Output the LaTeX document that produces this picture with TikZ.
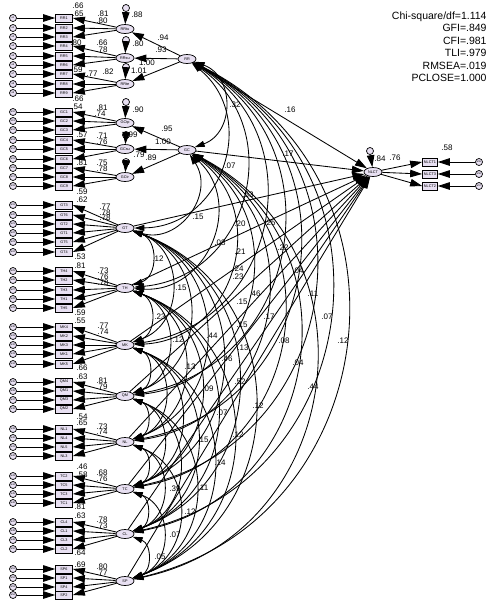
\documentclass[tikz,border=0pt]{standalone}
\usepackage{fontspec}
\setmainfont{Liberation Sans}
\usetikzlibrary{arrows.meta,shapes.geometric}
\definecolor{lav}{RGB}{232,224,242}
\begin{document}
\begin{tikzpicture}[x=1pt,y=1pt,line width=0.85pt,
  obs/.style={draw,fill=lav,line width=0.7pt,minimum width=17pt,minimum height=8pt,inner sep=0pt,font=\fontsize{3.8}{4}\selectfont},
  lat/.style={draw,fill=lav,line width=0.7pt,ellipse,minimum width=18pt,minimum height=9pt,inner sep=0pt,font=\fontsize{3.8}{4}\selectfont},
  err/.style={draw,fill=lav,line width=0.7pt,circle,minimum size=7pt,inner sep=0pt,font=\fontsize{2.5}{3}\selectfont},
  arr/.style={-{Triangle[length=12pt,width=7.5pt]}},
  cov/.style={{Triangle[length=10pt,width=6pt]}-{Triangle[length=10pt,width=6pt]}},
  num/.style={font=\fontsize{8}{9}\selectfont,inner sep=0pt},
]
\useasboundingbox (0,-600) rectangle (486,0);

% latent variables
\node[lat] (RR) at (187,-59) {RR};
\node[lat] (GC) at (187,-150) {GC};
\node[lat] (RRa) at (125,-29) {RRtu};
\node[lat] (RRb) at (125,-58) {RRsu};
\node[lat] (RRc) at (125,-84) {RRte};
\node[lat] (GCa) at (125,-123) {GCtp};
\node[lat] (GCb) at (125,-149) {GCsu};
\node[lat] (GCc) at (125,-177) {GCtr};
\node[lat] (GT) at (125,-228) {GT};
\node[lat] (TH) at (125,-288) {TH};
\node[lat] (MK) at (125,-345) {MK};
\node[lat] (QM) at (125,-396) {QM};
\node[lat] (NL) at (125,-442) {NL};
\node[lat] (TC) at (125,-489) {TC};
\node[lat] (CL) at (125,-534) {CL};
\node[lat] (SP) at (125,-581) {SP};
\node[lat] (NLCT) at (373,-172) {NLCT};

% covariances
\foreach \a [count=\i] in {RR,GC,GT,TH,MK,QM,NL,TC,CL,SP}{
  \foreach \b [count=\j] in {RR,GC,GT,TH,MK,QM,NL,TC,CL,SP}{
    \ifnum\j>\i \draw[cov] (\a) to[bend left=70,looseness=1.28] (\b); \fi
  }
}
% paths to NLCT
\foreach \a in {RR,GC,GT,TH,MK,QM,NL,TC,CL,SP}{\draw[arr] (\a) -- (NLCT);}

% second order
\foreach \s/\f in {RR/RRa,RR/RRb,RR/RRc,GC/GCa,GC/GCb,GC/GCc}{\draw[arr] (\s) -- (\f);}

% residuals of first-order factors
\foreach \f/\y [count=\k] in {RRa/8,RRb/40,RRc/67,GCa/102,GCb/135,GCc/162}{
  \node[err] (d\f) at (126,-\y) {};
  \draw[arr] (d\f) -- (\f);
}
\node[err] (dNLCT) at (370,-151) {};
\draw[arr] (dNLCT) -- (NLCT);

% indicators
\foreach \n/\y/\lv [count=\i] in {RR1/18/RRa, RR2/28/RRa, RR3/37/RRa, RR4/46/RRb, RR5/56/RRb, RR6/65/RRb, RR7/74/RRc, RR8/84/RRc, RR9/93/RRc,
GC1/112/GCa, GC2/121/GCa, GC3/130/GCa, GC4/140/GCb, GC5/149/GCb, GC6/159/GCb, GC7/168/GCc, GC8/177/GCc, GC9/186/GCc,
GT3/205/GT, GT6/215/GT, GT2/224/GT, GT1/233/GT, GT5/242/GT, GT4/252/GT,
TH4/271/TH, TH2/280/TH, TH3/290/TH, TH1/299/TH, TH5/308/TH,
MK4/327/MK, MK2/336/MK, MK3/345/MK, MK1/354/MK, MK5/364/MK,
QM4/382/QM, QM1/391/QM, QM3/400/QM, QM2/409/QM,
NL1/429/NL, NL4/438/NL, NL5/447/NL, NL3/456/NL,
TC2/476/TC, TC5/485/TC, TC3/494/TC, TC1/503/TC,
CL4/522/CL, CL1/531/CL, CL3/540/CL, CL2/549/CL,
SP6/569/SP, SP1/578/SP, SP4/587/SP, SP2/595/SP}{
  \node[obs] (\n) at (64,-\y) {\n};
  \node[err] (e\i) at (13,-\y) {e\i};
  \draw[arr] (e\i) -- (\n);
  \draw[arr] (\lv) -- (\n.east);
}

% NLCT indicators
\foreach \n/\y [count=\i from 55] in {NLCT1/162,NLCT3/174,NLCT2/186}{
  \node[obs,minimum width=15pt] (\n) at (430,-\y) {\n};
  \node[err] (e\i) at (479,-\y) {e\i};
  \draw[arr] (e\i) -- (\n);
  \draw[arr] (NLCT) -- (\n.west);
}

% fit indices
\node[align=right,anchor=north east,inner sep=0pt,font=\fontsize{10.5}{12.5}\selectfont] (fit) at (487,-11)
 {Chi-square/df=1.114\\GFI=.849\\CFI=.981\\TLI=.979\\RMSEA=.019\\PCLOSE=1.000};

% estimates
\foreach \t/\x/\y in {.66/78/6,.65/78/14,.81/103/14,.80/102/21,.80/76/43,.66/102/43,.78/102/50,.59/77/70,.77/92/74,.82/108/72,.66/78/99,
.54/77/107,.81/102/108,.74/100/114,.88/137/15,.94/163/38,.93/161/50,.80/138/44,1.00/147/63,1.01/139/71,
.90/138/110,.95/167/129,1.00/163/142,.99/132/135,.89/151/158,.79/139/155,
.57/82/135,.71/102/136,.76/102/142,.81/82/163,.75/102/163,.78/102/169,.59/82/192,.62/82/200,.77/105/207,.78/105/213,.78/105/218,
.53/80/257,.81/80/266,.73/103/271,.76/103/277,.78/103/283,.59/80/313,.55/80/321,.77/103/326,.74/103/332,
.66/82/368,.63/82/377,.81/102/381,.79/102/387,.54/82/417,.65/82/423,.73/102/427,.74/102/432,
.46/82/467,.58/82/475,.68/102/473,.76/102/479,.81/80/507,.63/80/516,.78/102/520,.73/102/526,
.64/80/553,.69/80/565,.80/102/567,.77/102/573,
.32/235/105,.16/290/110,.17/288/154,.07/230/166,.53/248/195,.15/198/217,.20/240/224,.25/270/223,
.08/220/243,.22/283/248,.21/240/252,.04/298/271,.24/238/269,.23/238/277,.46/255/294,.11/313/294,
.15/181/288,.15/242/302,.07/327/317,.12/343/341,.17/269/317,.15/242/325,.44/212/336,.08/284/341,
.13/243/348,.46/227/359,.04/298/363,.13/190/367,.52/240/382,.44/313/387,.09/208/389,.12/258/406,
.07/222/413,.12/238/435,.15/203/440,.14/220/463,.11/203/488,.12/190/512,.39/175/489,.07/175/535,.05/160/557,
.12/158/259,.23/160/317,.12/178/340,
.84/380/159,.76/395/158,.58/447/148}{
  \node[num] at (\x,-\y) {\t};
}
\end{tikzpicture}
\end{document}
